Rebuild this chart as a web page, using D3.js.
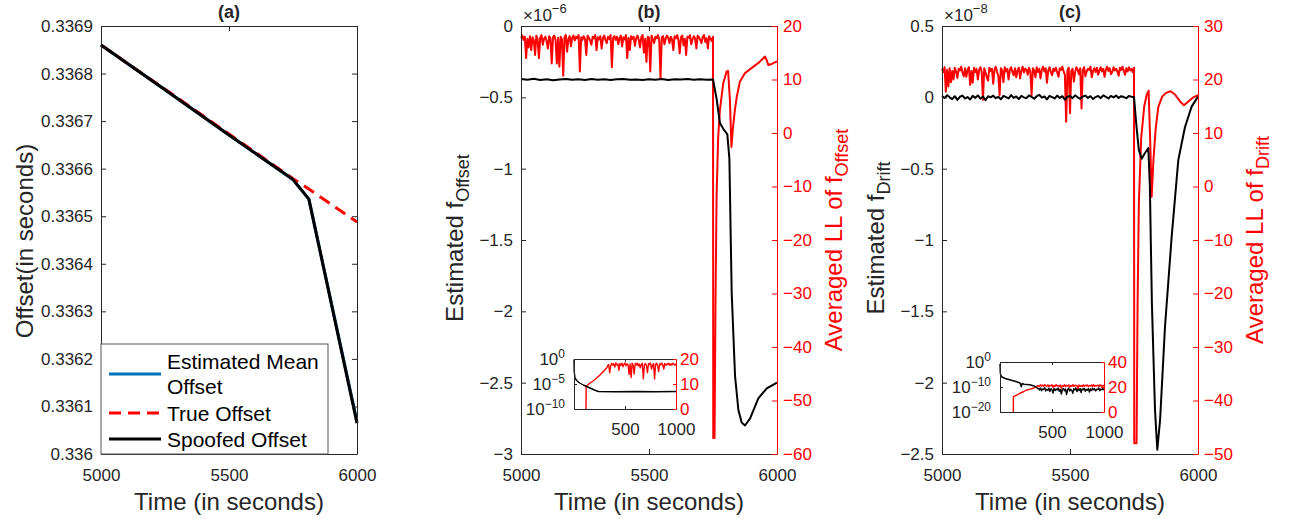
<!DOCTYPE html>
<html>
<head>
<meta charset="utf-8">
<script src="https://cdn.jsdelivr.net/npm/d3@7"></script>
<style>
  body { margin: 0; background: #fff; }
  svg { display: block; font-family: "Liberation Sans", Arial, Helvetica, sans-serif; }
  .tick text { font-family: "Liberation Sans", Arial, Helvetica, sans-serif; font-size: 17px; fill: #262626; }
  .axis path, .axis line { stroke: #262626; }
  .red-axis path, .red-axis line { stroke: #ff0000; }
  .red-axis .tick text { fill: #ff0000; }
  .line { fill: none; stroke-linejoin: round; }
</style>
</head>
<body>
<div id="chart"></div>
<script>
// Three panels: offset tracking (a), f_Offset estimate (b), f_Drift estimate (c).
// Values.

const timeTicks = [5000, 5500, 6000];

// (a) offsets in seconds
const aTime = [5000, 5250, 5500, 5750, 5812, 6000];
const aEstimated = [0.33686, 0.336766, 0.336671, 0.336577, 0.336536, 0.336068];
const aTrue = [0.33686, 0.336767, 0.336673, 0.336579, 0.336557, 0.336488];
const aSpoofed = [0.33686, 0.336766, 0.336671, 0.336577, 0.336536, 0.336065];
const aYTicks = [0.336, 0.3361, 0.3362, 0.3363, 0.3364, 0.3365, 0.3366, 0.3367, 0.3368, 0.3369];

// (b) estimated f_Offset (x1e-6) and averaged LL
const bLeftTicks = [0, -0.5, -1, -1.5, -2, -2.5, -3];
const bRightTicks = [20, 10, 0, -10, -20, -30, -40, -50, -60];
// black, every 25 s from 5000 to 5750
const bBlackFlat = [-0.372, -0.376, -0.370, -0.378, -0.373, -0.380, -0.375, -0.371, -0.377, -0.374,
  -0.379, -0.372, -0.376, -0.373, -0.378, -0.374, -0.371, -0.377, -0.375, -0.379,
  -0.373, -0.376, -0.372, -0.378, -0.374, -0.375, -0.371, -0.377, -0.373, -0.376, -0.375];
const bBlackTailT = [5764, 5777, 5790, 5806, 5814, 5820, 5823, 5836, 5849, 5862, 5875, 5895, 5927, 5960, 6000];
const bBlackTail = [-0.51, -0.68, -0.72, -0.76, -0.93, -1.56, -1.87, -2.45, -2.69, -2.78, -2.80, -2.75, -2.61, -2.54, -2.50];
// red, every 5 s from 5000 to 5750
const bRedNoise = [17.8, 18.2, 17.4, 18.0, 14.0, 17.6, 16.0, 18.1, 15.5, 17.9,
  17.3, 14.6, 18.2, 17.5, 14.0, 17.8, 18.3, 16.5, 17.6, 18.0,
  17.2, 15.8, 18.1, 17.7, 13.0, 17.9, 18.2, 17.4, 13.0, 17.8,
  12.4, 18.0, 17.5, 10.7, 17.9, 18.3, 15.2, 17.6, 18.1, 16.2,
  17.8, 18.2, 17.3, 18.0, 17.7, 18.3, 11.5, 17.9, 17.4, 18.1,
  17.6, 14.6, 18.2, 17.8, 17.3, 16.5, 18.0, 17.7, 18.3, 15.5,
  17.9, 17.5, 18.1, 15.8, 17.7, 18.2, 17.4, 16.8, 18.0, 17.6,
  18.3, 12.3, 17.8, 18.1, 17.4, 18.0, 16.6, 17.7, 18.2, 16.2,
  17.9, 17.5, 18.3, 14.0, 17.8, 15.5, 18.1, 17.6, 18.0, 16.3,
  17.7, 18.2, 17.4, 16.0, 17.9, 18.3, 15.0, 17.6, 13.3, 18.0,
  17.8, 11.5, 18.2, 17.5, 16.8, 18.0, 17.7, 18.3, 17.4, 10.2,
  17.9, 18.1, 16.6, 17.6, 18.2, 17.8, 16.8, 18.0, 17.5, 15.5,
  18.1, 17.7, 18.3, 17.4, 14.9, 17.9, 18.2, 16.4, 17.6, 14.6,
  18.0, 17.8, 18.3, 16.6, 17.5, 18.1, 17.7, 15.8, 18.2, 17.9,
  17.4, 16.8, 18.0, 18.3, 17.0, 17.7, 15.8, 18.1, 17.6, 17.2, 18.0];
const bRedTailT = [5751, 5756, 5760, 5764, 5770, 5777, 5790, 5803, 5809, 5816, 5822, 5828, 5836, 5843, 5855, 5875, 5908, 5930, 5953, 5960, 5966, 5980, 6000];
const bRedTail = [-57, -57, -30, -12, -1, 4.3, 9.3, 11.5, 11.6, 6.2, -2.6, 1.0, 4.5, 6.8, 9.6, 11.2, 12.4, 13.2, 14.3, 13.6, 12.7, 12.9, 13.4];

// (b) inset: first 1000 s
const bInsetBlackT = [0, 2, 10, 26, 55, 91, 125, 157, 200, 239, 400, 600, 800, 1000];
const bInsetBlackExp = [-0.1, -2.5, -3.8, -4.3, -4.8, -5.2, -5.5, -5.8, -6.2, -6.5, -6.55, -6.5, -6.55, -6.5];
const bInsetRedT = [118, 119, 157, 190, 222, 255, 287, 320, 330];
const bInsetRedHead = [0, 9.0, 10.4, 11.3, 12.4, 13.6, 15.0, 16.4, 17.2];
// every 10 s from 340 to 1000
const bInsetRedNoise = [17.8, 14.5, 17.2, 18.3, 17.5, 18.1, 16.8, 18.4, 17.6, 18.0,
  15.5, 18.2, 17.4, 18.3, 16.9, 17.9, 18.4, 17.3, 18.1, 17.7,
  13.8, 18.0, 12.6, 18.3, 17.5, 14.0, 18.2, 17.6, 18.4, 17.2,
  18.0, 16.5, 17.8, 18.3, 12.1, 17.6, 18.2, 17.4, 14.5, 18.1,
  17.8, 18.4, 16.0, 17.5, 18.2, 12.0, 17.9, 18.3, 17.3, 15.0,
  18.1, 17.6, 18.4, 17.7, 16.0, 18.2, 17.5, 18.0, 17.8, 18.3,
  17.4, 18.1, 17.6, 18.3, 17.9, 17.5, 18.2];

// (c) estimated f_Drift (x1e-8) and averaged LL
const cLeftTicks = [0.5, 0, -0.5, -1, -1.5, -2, -2.5];
const cRightTicks = [30, 20, 10, 0, -10, -20, -30, -40, -50];
// black, every 10 s from 5000 to 5750
const cBlackFlat = [0.010, -0.005, 0.015, 0.000, -0.012, 0.008, -0.018, 0.004, 0.012, -0.008,
  0.002, -0.015, 0.010, -0.004, 0.014, -0.010, 0.006, -0.020, 0.008, 0.000,
  0.012, -0.006, 0.004, -0.014, 0.010, 0.002, -0.008, 0.016, -0.004, 0.006,
  -0.012, 0.010, 0.000, -0.006, 0.014, 0.004, -0.010, 0.008, 0.018, -0.002,
  0.006, -0.014, 0.010, 0.002, -0.008, 0.012, -0.004, 0.008, -0.016, 0.004,
  0.010, -0.006, 0.014, 0.000, -0.010, 0.006, 0.012, -0.004, 0.008, -0.012,
  0.002, 0.010, -0.006, 0.014, 0.004, -0.008, 0.010, 0.000, 0.012, -0.004,
  0.008, 0.002, -0.006, 0.010, 0.004, 0.002];
const cBlackTailT = [5760, 5769, 5780, 5793, 5806, 5812, 5816, 5820, 5832, 5841, 5852, 5871, 5897, 5923, 5949, 5975, 6000];
const cBlackTail = [-0.21, -0.37, -0.43, -0.39, -0.355, -0.62, -1.05, -1.45, -2.19, -2.47, -2.26, -1.61, -0.98, -0.44, -0.21, -0.065, 0.005];
// red, every 5 s from 5000 to 5750
const cRedNoise = [22.0, 21.4, 22.3, 17.7, 21.8, 18.7, 22.1, 19.5, 21.6, 20.0,
  22.2, 21.5, 20.3, 22.0, 21.7, 22.4, 21.3, 20.6, 22.1, 20.5,
  21.8, 22.3, 19.0, 21.6, 19.4, 22.2, 21.4, 22.0, 20.0, 21.7,
  22.3, 21.5, 16.2, 22.1, 21.3, 20.4, 19.8, 22.2, 21.6, 22.0,
  19.2, 21.8, 22.4, 21.4, 20.7, 17.1, 22.1, 21.7, 19.5, 22.3,
  21.5, 22.0, 20.0, 21.8, 22.3, 21.4, 20.8, 22.1, 20.4, 21.7,
  22.2, 20.2, 21.6, 22.4, 21.3, 22.0, 21.8, 20.9, 22.2, 21.5,
  17.1, 22.1, 21.7, 20.4, 22.3, 21.4, 22.0, 20.2, 21.8, 22.4,
  21.5, 22.1, 19.4, 21.7, 22.3, 21.4, 20.8, 22.0, 21.6, 22.2,
  21.3, 20.5, 22.1, 21.8, 22.4, 21.5, 20.9, 12.1, 21.7, 22.2,
  13.7, 21.6, 22.0, 19.6, 21.4, 22.3, 21.8, 21.0, 22.1, 14.6,
  21.7, 22.3, 20.6, 21.5, 22.0, 21.8, 22.4, 20.4, 21.6, 22.1,
  21.4, 22.2, 20.9, 21.7, 22.3, 21.5, 22.0, 20.5, 21.8, 22.4,
  21.6, 22.1, 21.0, 21.4, 22.3, 21.7, 22.0, 21.5, 20.7, 22.2,
  21.8, 22.4, 21.6, 20.9, 22.1, 21.5, 22.3, 21.7, 22.0, 21.4, 22.2];
const cRedTailT = [5751, 5760, 5764, 5769, 5778, 5790, 5800, 5807, 5813, 5819, 5826, 5835, 5845, 5860, 5875, 5893, 5910, 5930, 5945, 5960, 5980, 6000];
const cRedTail = [-48, -48, -22, -3, 9, 15, 17.2, 17.9, 9, -1.9, 5, 11, 14.9, 16.8, 17.5, 17.8, 17.2, 15.9, 15.2, 15.8, 16.6, 17.1];

// (c) inset: first 1000 s
const cInsetBlackT = [0, 3, 15, 50, 100, 160, 192, 205, 212, 230, 287, 335, 360];
const cInsetBlackExp = [-0.8, -4.6, -5.9, -6.6, -7.2, -7.9, -8.4, -9.9, -8.6, -8.9, -9.1, -9.7, -10.5];
// every 10 s from 370 to 1000
const cInsetBlackNoise = [-10.6, -11.2, -10.4, -11.5, -10.8, -11.0, -10.3, -11.6, -10.9, -11.3,
  -10.5, -11.8, -10.7, -11.1, -12.4, -10.6, -11.4, -10.8, -11.2, -10.4,
  -11.7, -10.9, -12.8, -11.0, -10.6, -11.5, -10.8, -13.0, -11.1, -10.5,
  -11.6, -10.9, -11.3, -12.5, -10.7, -11.2, -10.4, -11.8, -10.9, -11.4,
  -10.6, -12.2, -10.8, -11.1, -10.5, -11.7, -10.9, -11.3, -10.6, -12.0,
  -10.8, -11.4, -10.5, -11.2, -10.7, -11.6, -10.9, -11.0, -10.4, -11.5,
  -10.8, -11.1, -10.6, -11.3];
const cInsetRedT = [128, 129, 160, 192, 225, 256, 290, 320, 350, 360];
const cInsetRedHead = [0, 12.3, 13.5, 15.0, 16.2, 17.6, 18.3, 19.0, 20.3, 20.8];
const cInsetRedNoise = [21.2, 20.4, 21.8, 20.8, 21.5, 20.3, 21.9, 21.0, 20.5, 21.7,
  20.2, 21.4, 20.9, 21.8, 19.6, 21.3, 20.6, 21.9, 20.7, 21.2,
  20.4, 21.6, 18.9, 21.1, 20.5, 21.8, 20.3, 21.4, 20.8, 21.7,
  19.8, 21.2, 20.6, 21.9, 20.4, 21.5, 20.9, 21.3, 18.6, 21.6,
  20.7, 21.1, 20.3, 21.8, 20.5, 21.4, 20.9, 21.7, 20.2, 21.3,
  20.8, 21.6, 20.4, 21.9, 20.6, 21.2, 20.9, 21.5, 20.3, 21.8,
  20.7, 21.3, 20.5, 21.6];

// ---- layout ----
const width = 1289;
const height = 519;
const plotTop = 26;
const plotBottom = 454;
const RED = "#ff0000";
const BLUE = "#0072bd";
const INK = "#262626";

const pairs = (ts, vs) => ts.map((t, i) => [t, vs[i]]);
const sampled = (start, step, vs) => vs.map((v, i) => [start + i * step, v]);

const svg = d3.select("#chart")
  .append("svg")
  .attr("width", width)
  .attr("height", height);

function timeAxes(x) {
  svg.append("g")
    .attr("class", "axis")
    .attr("transform", `translate(0, ${plotBottom})`)
    .call(d3.axisBottom(x).tickValues(timeTicks).tickSize(-5).tickSizeOuter(0).tickPadding(15).tickFormat(d3.format("d")));
  svg.append("g")
    .attr("class", "axis")
    .attr("transform", `translate(0, ${plotTop})`)
    .call(d3.axisTop(x).tickValues(timeTicks).tickSize(-5).tickSizeOuter(0).tickFormat(""));
  const [x0, x1] = x.range();
  svg.append("text")
    .attr("x", (x0 + x1) / 2)
    .attr("y", 510)
    .attr("text-anchor", "middle")
    .attr("font-size", 24)
    .attr("fill", INK)
    .text("Time (in seconds)");
}

function title(x, label) {
  const [x0, x1] = x.range();
  svg.append("text")
    .attr("x", (x0 + x1) / 2)
    .attr("y", 18)
    .attr("text-anchor", "middle")
    .attr("font-size", 18)
    .attr("font-weight", "bold")
    .attr("fill", INK)
    .text(label);
}

function yLabel(x, y, main, sub, color) {
  const t = svg.append("text")
    .attr("transform", `translate(${x}, ${y}) rotate(-90)`)
    .attr("text-anchor", "middle")
    .attr("font-size", 24)
    .attr("fill", color);
  t.append("tspan").text(main);
  if (sub) t.append("tspan").attr("font-size", 18).attr("dy", 6).text(sub);
}

function exponentLabel(x, power) {
  const t = svg.append("text")
    .attr("x", x)
    .attr("y", 21)
    .attr("font-size", 17)
    .attr("fill", INK);
  t.append("tspan").text("\u00d710");
  t.append("tspan").attr("font-size", 13).attr("dy", -8).text(power);
}

function drawLine(x, y, data, color, w, dash) {
  svg.append("path")
    .datum(data)
    .attr("class", "line")
    .attr("stroke", color)
    .attr("stroke-width", w)
    .attr("stroke-dasharray", dash || null)
    .attr("d", d3.line().x(d => x(d[0])).y(d => y(d[1])));
}

// ---------- panel (a) ----------
const xa = d3.scaleLinear().domain([5000, 6000]).range([101, 357]);
const ya = d3.scaleLinear().domain([0.336, 0.3369]).range([plotBottom, plotTop]);

drawLine(xa, ya, pairs(aTime, aEstimated), BLUE, 3);
drawLine(xa, ya, pairs(aTime, aTrue), RED, 3, "12,7");
drawLine(xa, ya, pairs(aTime, aSpoofed), "#000", 3);

timeAxes(xa);
svg.append("g")
  .attr("class", "axis")
  .attr("transform", `translate(101, 0)`)
  .call(d3.axisLeft(ya).tickValues(aYTicks).tickSize(-5).tickSizeOuter(0).tickPadding(8).tickFormat(d3.format(".4~f")));
svg.append("g")
  .attr("class", "axis")
  .attr("transform", `translate(357, 0)`)
  .call(d3.axisRight(ya).tickValues(aYTicks).tickSize(-5).tickSizeOuter(0).tickFormat(""));
title(xa, "(a)");
yLabel(33, 241, "Offset(in seconds)", null, INK);

// legend
const legend = svg.append("g");
legend.append("rect")
  .attr("x", 101).attr("y", 344).attr("width", 227).attr("height", 110)
  .attr("fill", "#fff").attr("stroke", "#555").attr("stroke-width", 1);
const legendItems = [
  { lines: ["Estimated Mean", "Offset"], color: BLUE, dash: null, y: 374, base: 369 },
  { lines: ["True Offset"], color: RED, dash: "12,7", y: 413, base: 421 },
  { lines: ["Spoofed Offset"], color: "#000", dash: null, y: 439, base: 447 }
];
legendItems.forEach(item => {
  legend.append("line")
    .attr("x1", 109).attr("x2", 161).attr("y1", item.y).attr("y2", item.y)
    .attr("stroke", item.color).attr("stroke-width", 3)
    .attr("stroke-dasharray", item.dash);
  item.lines.forEach((s, i) => {
    legend.append("text")
      .attr("x", 167).attr("y", item.base + i * 25)
      .attr("font-size", 21).attr("fill", "#000")
      .text(s);
  });
});

// ---------- panels (b) and (c) ----------
function drawEstimatePanel(p) {
  const x = d3.scaleLinear().domain([5000, 6000]).range([p.left, p.right]);
  const yL = d3.scaleLinear().domain(p.leftDomain).range([plotBottom, plotTop]);
  const yR = d3.scaleLinear().domain(p.rightDomain).range([plotBottom, plotTop]);

  drawLine(x, yR, p.red, RED, 2);
  drawLine(x, yL, p.black, "#000", 2);

  timeAxes(x);
  svg.append("g")
    .attr("class", "axis")
    .attr("transform", `translate(${p.left}, 0)`)
    .call(d3.axisLeft(yL).tickValues(p.leftTicks).tickSize(-5).tickSizeOuter(0).tickPadding(8).tickFormat(d3.format("~g")));
  svg.append("g")
    .attr("class", "red-axis")
    .attr("transform", `translate(${p.right}, 0)`)
    .call(d3.axisRight(yR).tickValues(p.rightTicks).tickSize(-5).tickSizeOuter(0).tickPadding(6).tickFormat(d3.format("~g")));

  title(x, p.title);
  exponentLabel(p.left + 2, p.power);
  yLabel(p.left - 58, 238, "Estimated f", p.sub, INK);
  yLabel(p.right + 65, 240, "Averaged LL of f", p.sub, RED);

  // inset with the first 1000 s
  const b = p.inset;
  const xi = d3.scaleLinear().domain([0, 1000]).range([b.x0, b.x1]);
  const yiL = d3.scaleLinear().domain(b.expDomain).range([b.y1, b.y0]);
  const yiR = d3.scaleLinear().domain(b.rightDomain).range([b.y1, b.y0]);
  svg.append("rect")
    .attr("x", b.x0).attr("y", b.y0)
    .attr("width", b.x1 - b.x0).attr("height", b.y1 - b.y0)
    .attr("fill", "#fff");
  drawLine(xi, yiR, b.red, RED, 1.4);
  drawLine(xi, yiL, b.black, "#000", 1.4);

  svg.append("g")
    .attr("class", "axis")
    .attr("transform", `translate(0, ${b.y1})`)
    .call(d3.axisBottom(xi).tickValues([500, 1000]).tickSize(-3).tickSizeOuter(0).tickPadding(14).tickFormat(d3.format("d")));
  svg.append("g")
    .attr("class", "axis")
    .attr("transform", `translate(0, ${b.y0})`)
    .call(d3.axisTop(xi).tickValues([500]).tickSize(-3).tickSizeOuter(0).tickFormat(""));
  const gl = svg.append("g")
    .attr("class", "axis")
    .attr("transform", `translate(${b.x0}, 0)`)
    .call(d3.axisLeft(yiL).tickValues(b.expTicks).tickSize(-3).tickSizeOuter(0).tickPadding(9).tickFormat(() => "10"));
  gl.selectAll(".tick text")
    .append("tspan")
    .attr("dy", "-0.55em")
    .attr("font-size", "12px")
    .text(d => d === 0 ? "0" : "\u2212" + Math.abs(d));
  svg.append("g")
    .attr("class", "red-axis")
    .attr("transform", `translate(${b.x1}, 0)`)
    .call(d3.axisRight(yiR).tickValues(b.rightTicks).tickSize(-3).tickSizeOuter(0).tickPadding(4).tickFormat(d3.format("d")));
}

drawEstimatePanel({
  left: 521, right: 777,
  leftDomain: [-3, 0], rightDomain: [-60, 20],
  leftTicks: bLeftTicks, rightTicks: bRightTicks,
  title: "(b)", power: "\u22126", sub: "Offset",
  black: sampled(5000, 25, bBlackFlat).concat(pairs(bBlackTailT, bBlackTail)),
  red: sampled(5000, 5, bRedNoise).concat(pairs(bRedTailT, bRedTail)),
  inset: {
    x0: 574, x1: 676, y0: 359, y1: 409,
    expDomain: [-10, 0], expTicks: [-10, -5, 0],
    rightDomain: [0, 20], rightTicks: [0, 10, 20],
    black: pairs(bInsetBlackT, bInsetBlackExp),
    red: pairs(bInsetRedT, bInsetRedHead).concat(sampled(340, 10, bInsetRedNoise))
  }
});

drawEstimatePanel({
  left: 942, right: 1198,
  leftDomain: [-2.5, 0.5], rightDomain: [-50, 30],
  leftTicks: cLeftTicks, rightTicks: cRightTicks,
  title: "(c)", power: "\u22128", sub: "Drift",
  black: sampled(5000, 10, cBlackFlat).concat(pairs(cBlackTailT, cBlackTail)),
  red: sampled(5000, 5, cRedNoise).concat(pairs(cRedTailT, cRedTail)),
  inset: {
    x0: 1000, x1: 1104, y0: 362, y1: 412,
    expDomain: [-20, 0], expTicks: [-20, -10, 0],
    rightDomain: [0, 40], rightTicks: [0, 20, 40],
    black: pairs(cInsetBlackT, cInsetBlackExp).concat(sampled(370, 10, cInsetBlackNoise)),
    red: pairs(cInsetRedT, cInsetRedHead).concat(sampled(370, 10, cInsetRedNoise))
  }
});
</script>
</body>
</html>
